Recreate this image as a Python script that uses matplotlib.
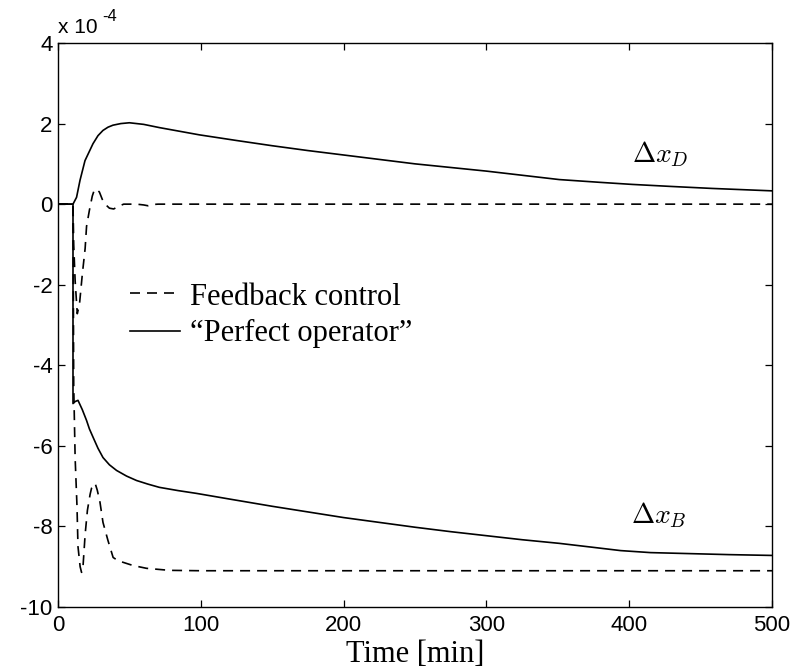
import matplotlib
matplotlib.use("Agg")
import matplotlib.pyplot as plt
from matplotlib.lines import Line2D

plt.rcParams['mathtext.fontset'] = 'cm'
plt.rcParams['axes.unicode_minus'] = False

# ---- data (values in units of 1e-4) ----
t_D_perfect = [0, 10.5, 13, 15.4, 18.9, 24.5, 28, 31.5, 35, 38.5, 44, 50, 60, 71, 85, 99,
               125, 150, 175, 200, 250, 300, 351, 380, 402, 429, 458, 500]
xD_perfect = [0, 0, 0.17, 0.59, 1.08, 1.5, 1.7, 1.83, 1.91, 1.96, 2.0, 2.02, 1.98, 1.9,
              1.81, 1.72, 1.58, 1.45, 1.33, 1.22, 1.0, 0.82, 0.61, 0.54, 0.49, 0.44, 0.39,
              0.33]

t_B_perfect = [0, 10.5, 10.5, 12, 14, 17, 20, 22, 24.6, 28, 31.5, 36, 41, 48, 55, 63, 71,
               84, 97, 120, 150, 175, 200, 225, 250, 275, 300, 325, 351, 375, 394, 415,
               470, 500]
xB_perfect = [0, 0, -4.95, -4.9, -4.87, -5.1, -5.37, -5.58, -5.79, -6.06, -6.29, -6.47,
              -6.61, -6.75, -6.86, -6.95, -7.03, -7.11, -7.18, -7.32, -7.5, -7.64, -7.78,
              -7.9, -8.02, -8.13, -8.23, -8.33, -8.42, -8.52, -8.6, -8.65, -8.7, -8.72]

t_D_feedback = [0, 10.5, 11, 12, 13.5, 15, 17, 19, 20, 22, 24, 25.5, 27, 29, 31, 33, 36,
                39, 42, 46, 55, 60, 63, 66, 70, 500]
xD_feedback = [0, 0, -1.0, -1.9, -2.72, -2.5, -1.75, -1.1, -0.55, -0.15, 0.2, 0.36, 0.37,
               0.3, 0.12, 0.0, -0.1, -0.12, -0.06, 0.0, 0.0, -0.02, -0.04, -0.01, 0.0, 0.0]

t_B_feedback = [0, 10.5, 11, 12, 13.3, 14, 15.5, 16.5, 17.5, 19, 20.6, 22.5, 23.5, 26,
                27.5, 29.4, 31.5, 35, 38.6, 42, 52.5, 62, 78, 100, 500]
xB_feedback = [0, 0, -4.5, -6.3, -7.5, -8.5, -9.0, -9.14, -9.0, -8.2, -7.6, -7.2, -7.05,
               -6.93, -7.1, -7.4, -7.9, -8.35, -8.77, -8.85, -8.97, -9.04, -9.09, -9.1, -9.1]

xticks = [0, 100, 200, 300, 400, 500]
yticks = [-10, -8, -6, -4, -2, 0, 2, 4]
legend_labels = ["Feedback control", "\u201cPerfect operator\u201d"]

# ---- figure ----
W, H = 801, 672
fig = plt.figure(figsize=(W / 100, H / 100), dpi=100)
L, R, T, B = 58, 772, 43, 607
ax = fig.add_axes([L / W, (H - B) / H, (R - L) / W, (B - T) / H])

lw = 1.2
dash = (6.0, 4.2)
ax.plot(t_D_perfect, xD_perfect, color='black', lw=lw)
ax.plot(t_B_perfect, xB_perfect, color='black', lw=lw)
ax.plot(t_D_feedback, xD_feedback, color='black', lw=lw, linestyle=(0, dash))
ax.plot(t_B_feedback, xB_feedback, color='black', lw=lw, linestyle=(0, dash))

ax.set_xlim(0, 500)
ax.set_ylim(-10, 4)
ax.set_xticks(xticks)
ax.set_yticks(yticks)
ax.set_xticklabels([str(v) for v in xticks], family='Liberation Sans', fontsize=16)
ax.set_yticklabels([str(v) for v in yticks], family='Liberation Sans', fontsize=16)
ax.tick_params(direction='in', top=True, right=True, length=5, width=0.9, color='black')
ax.tick_params(axis='x', pad=6)
ax.tick_params(axis='y', pad=4)
for s in ax.spines.values():
    s.set_linewidth(1.0)

ax.set_xlabel("Time [min]", family='Liberation Serif', fontsize=22, labelpad=3)

# exponent label
fig.text(58 / W, (H - 33) / H, "x 10", family='Liberation Sans', fontsize=15,
         ha='left', va='baseline')
fig.text(102 / W, (H - 21) / H, "-4", family='Liberation Sans', fontsize=12,
         ha='left', va='baseline')

# curve annotations
def fx(px):
    return (px - L) / (R - L)

def fy(py):
    return (B - py) / (B - T)

ax.text(fx(632), fy(162), r'$\Delta x_D$', transform=ax.transAxes, fontsize=20,
        ha='left', va='baseline')
ax.text(fx(631), fy(523), r'$\Delta x_B$', transform=ax.transAxes, fontsize=20,
        ha='left', va='baseline')

# legend (manual placement)
ax.add_line(Line2D([fx(130), fx(180)], [fy(293), fy(293)], transform=ax.transAxes,
                   color='black', lw=lw, linestyle=(0, dash)))
ax.add_line(Line2D([fx(130), fx(180)], [fy(331), fy(331)], transform=ax.transAxes,
                   color='black', lw=lw))
ax.text(fx(190), fy(305), legend_labels[0], transform=ax.transAxes,
        family='Liberation Serif', fontsize=22, ha='left', va='baseline')
ax.text(fx(190), fy(341), legend_labels[1], transform=ax.transAxes,
        family='Liberation Serif', fontsize=22, ha='left', va='baseline')

fig.savefig("out.png", dpi=100)
